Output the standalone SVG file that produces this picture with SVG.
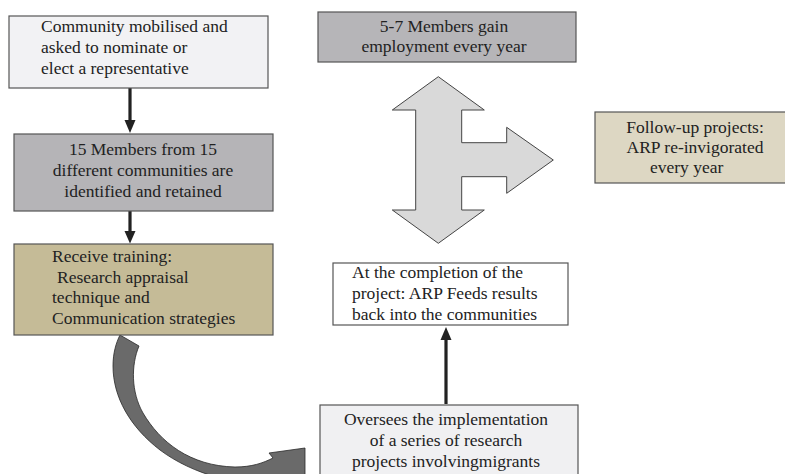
<svg xmlns="http://www.w3.org/2000/svg" width="785" height="474" viewBox="0 0 785 474">
<style>
  text { font-family: "Liberation Serif", "Times New Roman", serif; font-size: 17.5px; fill: #222; }
  .c { text-anchor: middle; }
  .box { stroke: #555; stroke-width: 1.2; }
  .conn { stroke: #222; stroke-width: 3.2; fill: none; }
  .head { fill: #222; }
</style>
<rect width="785" height="474" fill="#ffffff"/>

<g id="connectors">
  <line class="conn" x1="130" y1="88" x2="130" y2="122"/>
  <polygon class="head" points="124.5,120 135.5,120 130,133"/>
  <line class="conn" x1="130" y1="211" x2="130" y2="233"/>
  <polygon class="head" points="124.5,231 135.5,231 130,243.5"/>
  <line class="conn" x1="446" y1="404" x2="446" y2="338"/>
  <polygon class="head" points="440.5,340 451.5,340 446,327"/>
  <path d="M120,335 L139,346 C131,365 131,392 143,413 C160,442 190,466 235,467 C252,467 263,463 273,458 L269,453 L305,448 L305,480 L290,485 C240,488 192,474 160,450 C130,427 113,397 113,366 C113,353 116,343 120,335 Z" fill="#6a6a6a" stroke="#2a2a2a" stroke-width="0.8"/>
  <polygon points="438.3,76.7 484.3,110 461.7,110 461.7,142.7 506.7,142.7 506.7,127.3 553.3,160 506.7,193.3 506.7,176.7 461.7,176.7 461.7,210 484.3,210 438.3,243.3 392.3,210 415.7,210 415.7,110 392.3,110" fill="#d9d9d9" stroke="#444" stroke-width="1"/>
</g>

<g id="n1">
  <rect class="box" x="9" y="16" width="259" height="72" fill="#f2f2f4"/>
  <text x="41" y="32">Community mobilised and</text>
  <text x="41" y="53">asked to nominate or</text>
  <text x="41" y="74">elect a representative</text>
</g>

<g id="n2">
  <rect class="box" x="14" y="134" width="259" height="77" fill="#b5b4b7"/>
  <text class="c" x="143" y="155">15 Members from 15</text>
  <text class="c" x="143" y="176">different communities are</text>
  <text class="c" x="143" y="197">identified and retained</text>
</g>

<g id="n3">
  <rect class="box" x="14" y="244" width="259" height="91" fill="#c5bb97"/>
  <text x="52" y="262">Receive training:</text>
  <text x="57" y="283">Research appraisal</text>
  <text x="52" y="303">technique and</text>
  <text x="52" y="324">Communication strategies</text>
</g>

<g id="n4">
  <rect class="box" x="318" y="12" width="258" height="50" fill="#b6b5b8"/>
  <text class="c" x="444" y="32">5-7 Members gain</text>
  <text class="c" x="444" y="52">employment every year</text>
</g>

<g id="n5">
  <rect class="box" x="595" y="112" width="200" height="71" fill="#ddd7c3"/>
  <text class="c" x="695" y="133">Follow-up projects:</text>
  <text class="c" x="695" y="153">ARP re-invigorated</text>
  <text x="650" y="173">every year</text>
</g>

<g id="n6">
  <rect class="box" x="333" y="263" width="235" height="62" fill="#ffffff"/>
  <text x="352" y="278">At the completion of the</text>
  <text x="352" y="299">project: ARP Feeds results</text>
  <text x="352" y="320">back into the communities</text>
</g>

<g id="n7">
  <rect class="box" x="320" y="405" width="258" height="80" fill="#f0f0f2"/>
  <text class="c" x="446" y="425">Oversees the implementation</text>
  <text class="c" x="446" y="446">of a series of research</text>
  <text class="c" x="446" y="467">projects involvingmigrants</text>
</g>
</svg>
